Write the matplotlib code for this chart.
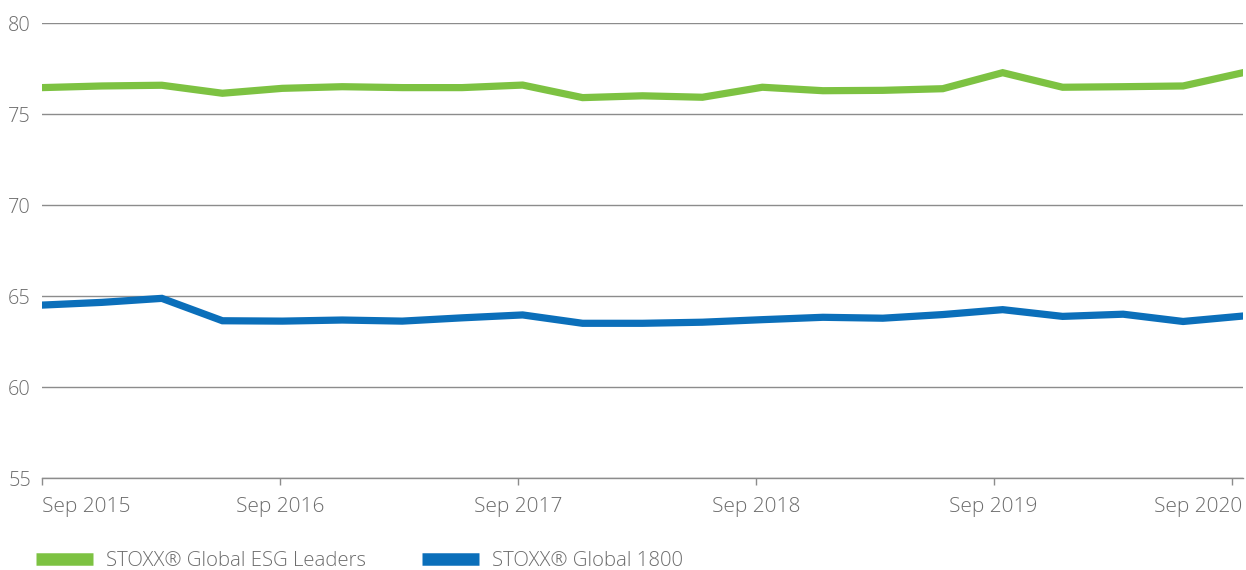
import numpy as np
import pandas as pd
import matplotlib
matplotlib.use('Agg')
import matplotlib.pyplot as plt
import matplotlib.dates as mdates
import matplotlib.transforms as mtransforms
from matplotlib.lines import Line2D

dates = pd.to_datetime(['2015-09-01', '2015-12-02', '2016-03-03', '2016-06-04', '2016-09-04',
                        '2016-12-05', '2017-03-07', '2017-06-07', '2017-09-08', '2017-12-09',
                        '2018-03-11', '2018-06-11', '2018-09-11', '2018-12-13', '2019-03-15',
                        '2019-06-15', '2019-09-15', '2019-12-16', '2020-03-18', '2020-06-18',
                        '2020-09-18'])
esg_leaders = [76.45, 76.54, 76.58, 76.14, 76.41, 76.50, 76.45, 76.45, 76.59, 75.90, 76.00,
               75.92, 76.47, 76.28, 76.30, 76.39, 77.27, 76.47, 76.50, 76.54, 77.27]
global_1800 = [64.50, 64.65, 64.87, 63.64, 63.62, 63.68, 63.62, 63.80, 63.96, 63.50, 63.50,
               63.56, 63.70, 63.83, 63.78, 63.98, 64.25, 63.88, 64.00, 63.60, 63.90]
series_names = ['STOXX® Global ESG Leaders', 'STOXX® Global 1800']
tick_dates = pd.to_datetime(['2015-09-01', '2016-09-01', '2017-09-01',
                             '2018-09-01', '2019-09-01', '2020-09-01'])
y_ticks = [55, 60, 65, 70, 75, 80]

GREEN = '#7dc242'
BLUE = '#0b6fba'
TEXT = '#6d6d6d'
GRID = '#8c8c8c'

plt.rcParams['font.family'] = ['Open Sans', 'DejaVu Sans']

# %% Plot
fig = plt.figure(figsize=(12.46, 5.70), dpi=100)
ax = fig.add_axes([42 / 1246, 1 - 478 / 570, (1243 - 42) / 1246, (478 - 23) / 570])

ax.plot(dates, esg_leaders, color=GREEN, lw=5.2, solid_joinstyle='miter', zorder=3)
ax.plot(dates, global_1800, color=BLUE, lw=5.2, solid_joinstyle='miter', zorder=3)

ax.set_xlim(dates[0], dates[-1])
ax.set_ylim(55, 80)
ax.set_yticks(y_ticks)
ax.set_xticks(tick_dates)
ax.xaxis.set_major_formatter(mdates.DateFormatter('%b %Y'))

ax.grid(axis='y', color=GRID, lw=1.0, zorder=1)
for side in ['top', 'right', 'left']:
    ax.spines[side].set_visible(False)
ax.spines['bottom'].set_color(GRID)
ax.spines['bottom'].set_linewidth(1.0)

ax.tick_params(axis='y', length=0, pad=8, labelsize=14.3, labelcolor=TEXT)
ax.tick_params(axis='x', length=5, width=1, color=GRID, pad=9, labelsize=15, labelcolor=TEXT)
for lbl in ax.get_yticklabels() + ax.get_xticklabels():
    lbl.set_fontweight('light')
xlabels = ax.get_xticklabels()
xlabels[0].set_horizontalalignment('left')
xlabels[-1].set_horizontalalignment('right')
xlabels[-1].set_transform(xlabels[-1].get_transform() +
                          mtransforms.ScaledTranslation(10 / 100, 0, fig.dpi_scale_trans))

handles = [Line2D([], [], color=GREEN, lw=9, solid_capstyle='butt'),
           Line2D([], [], color=BLUE, lw=9, solid_capstyle='butt')]
leg = fig.legend(handles, series_names, loc='center left', bbox_to_anchor=(0.014, 1 - 561 / 570),
                 ncol=2, frameon=False, handlelength=2.8, handletextpad=0.62, columnspacing=2.75,
                 prop={'size': 14.7, 'weight': 'light'})
for t in leg.get_texts():
    t.set_color(TEXT)

fig.savefig('out.png', dpi=100)
